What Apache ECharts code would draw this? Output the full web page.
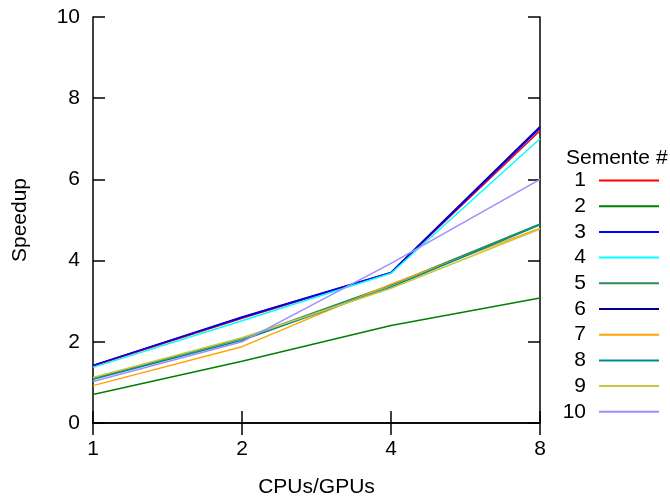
<!DOCTYPE html>
<html>
<head>
<meta charset="utf-8">
<script src="https://cdn.jsdelivr.net/npm/echarts@6/dist/echarts.min.js"></script>
<style>html,body{margin:0;padding:0;background:#fff}#c{width:670px;height:499px}</style>
</head>
<body>
<div id="c"></div>
<script>
const categories = ['1', '2', '4', '8'];
const yTicks = [0, 2, 4, 6, 8, 10];
const seriesNames = ['1', '2', '3', '4', '5', '6', '7', '8', '9', '10'];
const s1 = [1.40, 2.58, 3.70, 7.20];
const s2 = [0.70, 1.52, 2.40, 3.08];
const s3 = [1.42, 2.60, 3.70, 7.26];
const s4 = [1.37, 2.52, 3.69, 7.00];
const s5 = [1.10, 2.08, 3.40, 4.90];
const s6 = [1.42, 2.61, 3.71, 7.30];
const s7 = [0.92, 1.88, 3.42, 4.80];
const s8 = [1.08, 2.04, 3.35, 4.88];
const s9 = [1.12, 2.10, 3.32, 4.78];
const s10 = [1.02, 2.00, 3.93, 6.00];
const colors = ['#ff0000', '#008000', '#0000ff', '#00ffff', '#2e8b57', '#00008b', '#ffa500', '#008b8b', '#c8c840', '#a08cff'];
const zOrder = [3, 3, 3, 3, 3, 2, 3, 3, 3, 3];
const allData = [s1, s2, s3, s4, s5, s6, s7, s8, s9, s10];

const FONT = 'Liberation Sans, Arial, sans-serif';
const FS = 21;
const chart = echarts.init(document.getElementById('c'), null, {renderer: 'canvas'});
const axisCommon = {
  axisLine: {show: true, lineStyle: {color: '#000', width: 1.5}},
  axisTick: {show: true, inside: true, length: 12, lineStyle: {color: '#000', width: 1.5}},
  splitLine: {show: false}
};
chart.setOption({
  animation: false,
  backgroundColor: '#fff',
  textStyle: {fontFamily: FONT},
  title: {
    text: 'Semente #', left: 566, top: 148, padding: 0,
    textStyle: {fontSize: FS, fontWeight: 'normal', color: '#000', fontFamily: FONT}
  },
  legend: {
    orient: 'vertical', right: 10, top: 170, padding: 0,
    align: 'right', itemWidth: 60, itemHeight: 18, itemGap: 4.7,
    data: seriesNames,
    itemStyle: {opacity: 0},
    textStyle: {fontSize: FS, color: '#000', fontFamily: FONT, lineHeight: 18, padding: [0, 8, 0, 0]}
  },
  grid: {left: 93, right: 130, top: 17, bottom: 76, containLabel: false, outerBoundsMode: 'none'},
  xAxis: [
    Object.assign({
      type: 'category', data: categories, boundaryGap: false, position: 'bottom',
      name: 'CPUs/GPUs', nameLocation: 'middle', nameGap: 54,
      nameTextStyle: {fontSize: FS, color: '#000', fontFamily: FONT},
      axisLabel: {fontSize: FS, color: '#000', margin: 16, fontFamily: FONT}
    }, axisCommon),
    Object.assign({
      type: 'category', data: categories, boundaryGap: false, position: 'top',
      axisLabel: {show: false}
    }, axisCommon)
  ],
  yAxis: [
    Object.assign({
      type: 'value', min: yTicks[0], max: yTicks[yTicks.length - 1], interval: 2, position: 'left',
      name: 'Speedup', nameLocation: 'middle', nameGap: 62,
      nameTextStyle: {fontSize: FS, color: '#000', fontFamily: FONT},
      axisLabel: {fontSize: FS, color: '#000', margin: 13, fontFamily: FONT}
    }, axisCommon),
    Object.assign({
      type: 'value', min: yTicks[0], max: yTicks[yTicks.length - 1], interval: 2, position: 'right',
      axisLabel: {show: false}
    }, axisCommon)
  ],
  series: seriesNames.map((n, i) => ({
    name: n, type: 'line', data: allData[i], xAxisIndex: 0, yAxisIndex: 0,
    symbol: 'none', showSymbol: false, z: zOrder[i],
    color: colors[i],
    lineStyle: {color: colors[i], width: 1.5},
    itemStyle: {color: colors[i]}
  }))
});
</script>
</body>
</html>
